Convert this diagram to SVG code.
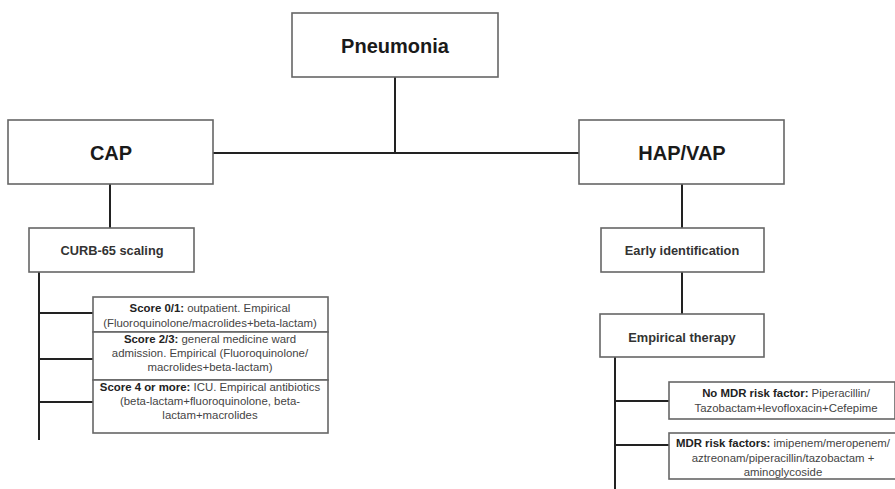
<svg xmlns="http://www.w3.org/2000/svg" width="895" height="489" viewBox="0 0 895 489">
<style>
.box{fill:#fff;stroke:#666;stroke-width:1.6}
.big{font-family:"Liberation Sans",Arial,sans-serif;font-weight:bold;font-size:20px;fill:#1a1a1a;text-anchor:middle}
.mid{font-family:"Liberation Sans",Arial,sans-serif;font-weight:bold;font-size:12.8px;fill:#333;text-anchor:middle}
.sm{font-family:"Liberation Sans",Arial,sans-serif;font-size:11.4px;fill:#444;text-anchor:middle}
.sm tspan.b{font-weight:bold;fill:#222}
.conn{stroke:#222;stroke-width:2;fill:none}
</style>
<rect width="895" height="489" fill="#fff"/>
<g id="connectors">
<path class="conn" d="M395 77V153M213 153H579M110 184V228M682 184V228M682 272V314M39 272V440M39 313H93M39 359H93M39 402H93M615 357V489M615 401H669M615 445H669"/>
</g>
<g id="pneumonia"><rect class="box" x="292" y="13" width="206" height="64"/><text class="big" x="395" y="53">Pneumonia</text></g>
<g id="cap"><rect class="box" x="8" y="120" width="205" height="64"/><text class="big" x="111" y="160">CAP</text></g>
<g id="hapvap"><rect class="box" x="579" y="120" width="205" height="64"/><text class="big" x="682" y="160">HAP/VAP</text></g>
<g id="curb"><rect class="box" x="29" y="228" width="165" height="44"/><text class="mid" x="112" y="255">CURB-65 scaling</text></g>
<g id="early"><rect class="box" x="601" y="228" width="163" height="44"/><text class="mid" x="682" y="255">Early identification</text></g>
<g id="empirical"><rect class="box" x="600" y="314" width="164" height="43"/><text class="mid" x="682" y="342">Empirical therapy</text></g>
<g id="score01"><rect class="box" x="93" y="297" width="235" height="35"/>
<text class="sm" x="210" y="312"><tspan class="b">Score 0/1:</tspan> outpatient. Empirical</text>
<text class="sm" x="210" y="327">(Fluoroquinolone/macrolides+beta-lactam)</text></g>
<g id="score23"><rect class="box" x="93" y="332" width="235" height="48"/>
<text class="sm" x="210" y="343"><tspan class="b">Score 2/3:</tspan> general medicine ward</text>
<text class="sm" x="210" y="357">admission. Empirical (Fluoroquinolone/</text>
<text class="sm" x="210" y="371">macrolides+beta-lactam)</text></g>
<g id="score4"><rect class="box" x="93" y="380" width="235" height="53"/>
<text class="sm" x="210" y="391"><tspan class="b">Score 4 or more:</tspan> ICU. Empirical antibiotics</text>
<text class="sm" x="210" y="405">(beta-lactam+fluoroquinolone, beta-</text>
<text class="sm" x="210" y="419">lactam+macrolides</text></g>
<g id="nomdr"><rect class="box" x="669" y="382" width="226" height="37"/>
<text class="sm" x="786" y="397"><tspan class="b">No MDR risk factor:</tspan> Piperacillin/</text>
<text class="sm" x="786" y="412">Tazobactam+levofloxacin+Cefepime</text></g>
<g id="mdr"><rect class="box" x="669" y="433" width="228" height="46"/>
<text class="sm" x="783" y="447"><tspan class="b">MDR risk factors:</tspan> imipenem/meropenem/</text>
<text class="sm" x="783" y="462">aztreonam/piperacillin/tazobactam +</text>
<text class="sm" x="783" y="476">aminoglycoside</text></g>
</svg>
